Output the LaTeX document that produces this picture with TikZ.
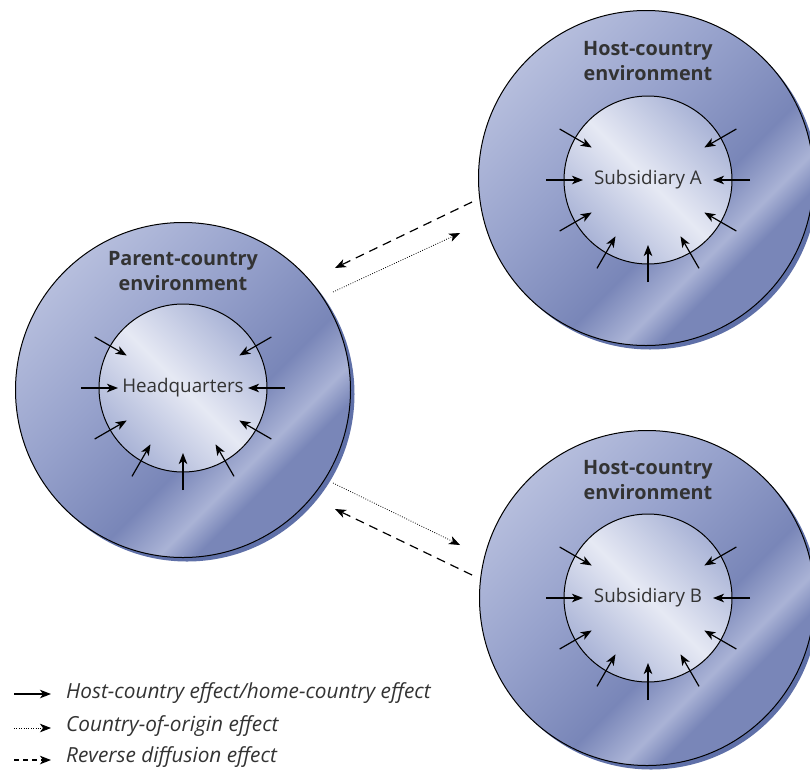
\documentclass[tikz,border=0pt]{standalone}
\usepackage{fontspec}
\setmainfont{Open Sans}
\usetikzlibrary{arrows.meta, positioning}

\definecolor{envlight}{HTML}{B6BEDD}
\definecolor{envmid}{HTML}{97A2CC}
\definecolor{envdark}{HTML}{7986B8}
\definecolor{envshade}{HTML}{5F70A8}
\definecolor{coreedge}{HTML}{A9B3D6}
\definecolor{corelight}{HTML}{E6E9F4}
\definecolor{inktext}{HTML}{333333}

\pgfdeclarehorizontalshading{envshading}{100bp}{color(0bp)=(envlight); color(25bp)=(envlight);
  color(42bp)=(envmid); color(58bp)=(envdark); color(65bp)=(envlight!80!envdark);
  color(69bp)=(envdark); color(75bp)=(envdark); color(100bp)=(envdark)}
\pgfdeclarehorizontalshading{coreshading}{100bp}{color(0bp)=(coreedge); color(25bp)=(coreedge);
  color(50bp)=(corelight); color(75bp)=(coreedge); color(100bp)=(coreedge)}

\begin{document}
\begin{tikzpicture}[x=1pt, y=-1pt, font=\fontsize{18.8}{25}\selectfont, text=inktext,
    envcircle/.style={circle, draw=black, line width=1pt, shading=envshading, shading angle=-45, minimum size=335pt, inner sep=0pt},
    envshadow/.style={circle, fill=envshade, minimum size=335pt, inner sep=0pt},
    corecircle/.style={circle, draw=black, line width=1pt, shading=coreshading, shading angle=45, minimum size=168pt, inner sep=0pt},
    envlabel/.style={align=center, font=\fontsize{19.8}{25.5}\selectfont\bfseries},
    effect/.style={line width=1.2pt, -{Stealth[length=11pt, width=8.5pt, inset=3pt]}},
    origin/.style={line width=0.8pt, dash pattern=on 0.8pt off 1.6pt, -{Stealth[length=11pt, width=8.5pt, inset=3pt]}},
    reverse/.style={line width=1.2pt, dash pattern=on 9pt off 6pt, -{Stealth[length=11pt, width=8.5pt, inset=3pt]}},
    legendtext/.style={anchor=west, inner sep=0pt, font=\fontsize{20.8}{24}\selectfont\itshape}]

  \useasboundingbox (0,0) rectangle (810,769);

  % environments
  \node[envshadow] at (187,394) {};
  \node[envcircle] (parent) at (183,390) {};
  \node[envshadow] at (650,182) {};
  \node[envcircle] (hostA) at (646,178) {};
  \node[envshadow] at (651,602) {};
  \node[envcircle] (hostB) at (647,598) {};

  \node[envlabel] (parentlabel) at (183,271) {Parent-country\\environment};
  \node[envlabel] (hostAlabel) at (648,61) {Host-country\\environment};
  \node[envlabel] (hostBlabel) at (648,480) {Host-country\\environment};

  % organisations
  \node[corecircle] (hq) at (183,388) {Headquarters};
  \node[corecircle] (subA) at (648,180) {Subsidiary A};
  \node[corecircle] (subB) at (648,598) {Subsidiary B};

  \foreach \unit in {hq, subA, subB}
    \foreach \a in {0,30,150,180,210,240,270,300,330}
      \draw[effect] ([shift={(\a:102pt)}]\unit.center) -- ([shift={(\a:65pt)}]\unit.center);

  % flows between parent and subsidiaries
  \coordinate (originAstart) at (333,292);
  \coordinate (originAend) at (460,233);
  \coordinate (reverseAstart) at (472,202);
  \coordinate (reverseAend) at (335,268);
  \coordinate (originBstart) at (333,483);
  \coordinate (originBend) at (460,545);
  \coordinate (reverseBstart) at (472,575);
  \coordinate (reverseBend) at (335,509);

  \draw[origin] (originAstart) -- (originAend);
  \draw[reverse] (reverseAstart) -- (reverseAend);
  \draw[origin] (originBstart) -- (originBend);
  \draw[reverse] (reverseBstart) -- (reverseBend);

  % legend
  \node[legendtext] (keyhost) at (66,693) {Host-country effect/home-country effect};
  \node[legendtext] (keyorigin) at (66,726) {Country-of-origin effect};
  \node[legendtext] (keyreverse) at (66,757) {Reverse diffusion effect};
  \coordinate (hoststart) at (14,694);
  \coordinate (originstart) at (14,728);
  \coordinate (reversestart) at (14,760);
  \draw[effect] (hoststart) -- ([xshift=-15pt, yshift=-1pt]keyhost.west);
  \draw[origin] (originstart) -- ([xshift=-15pt, yshift=-2pt]keyorigin.west);
  \draw[reverse, dash pattern=on 5pt off 4pt] (reversestart) -- ([xshift=-15pt, yshift=-3pt]keyreverse.west);
\end{tikzpicture}
\end{document}
